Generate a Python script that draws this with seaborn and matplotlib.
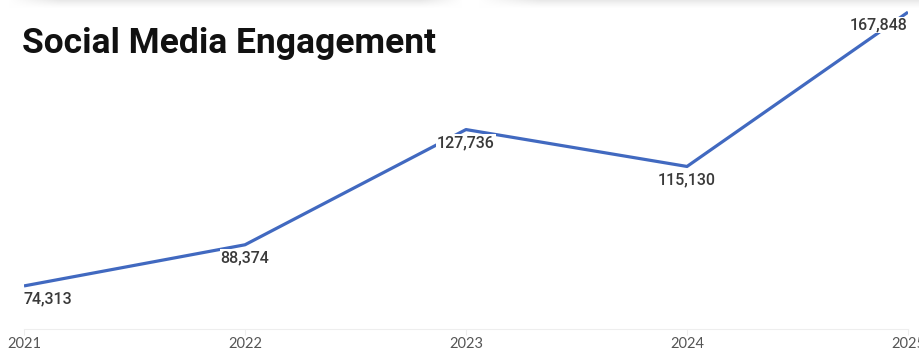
import numpy as np
import pandas as pd
import matplotlib
matplotlib.use("Agg")
import matplotlib.pyplot as plt
import seaborn as sns

# Yearly engagement totals
years = [2021, 2022, 2023, 2024, 2025]
engagement = [74313, 88374, 127736, 115130, 167848]
title = "Social Media Engagement"

df = pd.DataFrame({"year": years, "engagement": engagement})

sns.set_theme(style="white")
plt.rcParams["font.family"] = ["Roboto", "DejaVu Sans"]

W, H = 920, 350
fig = plt.figure(figsize=(W / 100, H / 100), dpi=100)
fig.patch.set_facecolor("white")

ax = fig.add_axes([24 / W, 21 / H, (908 - 24) / W, 329 / H])
sns.lineplot(data=df, x="year", y="engagement", ax=ax,
             color="#4169c0", linewidth=2.3, solid_capstyle="butt")
ax.set_xlim(years[0], years[-1])
ax.set_ylim(59600, 172000)
ax.set_xlabel("")
ax.set_ylabel("")
ax.set_yticks([])
ax.set_xticks(years)
ax.set_xticklabels([str(y) for y in years], fontfamily=["Lato", "DejaVu Sans"],
                   fontsize=10.5, color="#555555")
ax.tick_params(axis="x", length=4, width=0.8, color="#eeeeee", pad=2,
               bottom=True)
for side in ("top", "right", "left"):
    ax.spines[side].set_visible(False)
ax.spines["bottom"].set_color("#eeeeee")
ax.spines["bottom"].set_linewidth(0.8)

# Value labels under each point
for i, (yr, val) in enumerate(zip(years, engagement)):
    ha = "left" if i == 0 else ("right" if i == len(years) - 1 else "center")
    ax.annotate(f"{val:,}", (yr, val), xytext=(0, -13), textcoords="offset pixels",
                ha=ha, va="center", fontsize=11.5, fontweight="medium",
                color="#3a3a3a", zorder=5,
                bbox=dict(boxstyle="square,pad=0.05", fc="white", ec="none"),
                annotation_clip=False)

fig.text(22 / W, 1 - 44 / H, title, fontsize=25.5, fontweight="bold",
         color="#111111", ha="left", va="center")

# Soft grey card shadows along the top edge
sh_h = 9
xs = np.arange(W)
def ramp(x, a, b):
    return np.clip((x - a) / (b - a), 0, 1)
horiz = np.maximum(ramp(xs, 8, 60) * (1 - ramp(xs, 420, 462)),
                   ramp(xs, 478, 540))
vert = np.clip(1 - np.arange(sh_h) / (sh_h - 1), 0, 1) ** 1.3
shade = 1 - 0.085 * vert[:, None] * horiz[None, :]
img = np.dstack([shade, shade, shade])
sax = fig.add_axes([0, 1 - sh_h / H, 1, sh_h / H])
sax.imshow(img, aspect="auto", interpolation="bilinear", vmin=0, vmax=1)
sax.axis("off")

fig.savefig("out.png", dpi=100, facecolor="white")
